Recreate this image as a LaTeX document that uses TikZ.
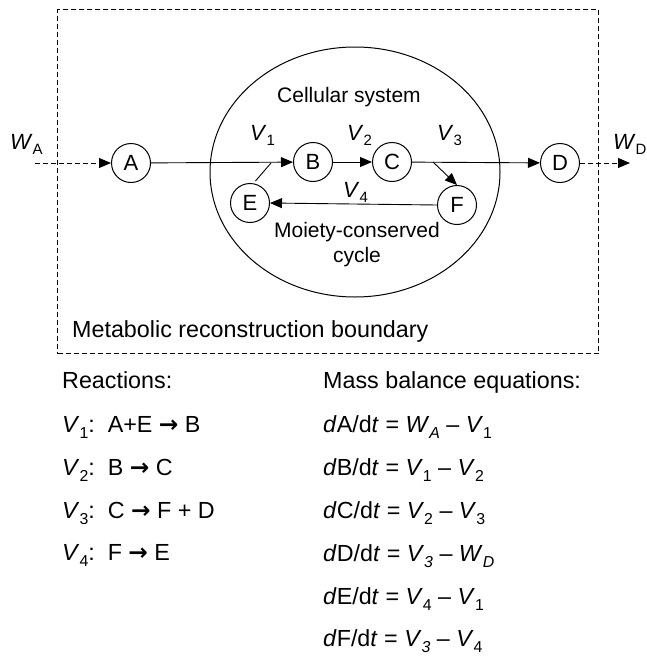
\documentclass[tikz,border=0pt]{standalone}
\usepackage{fontspec}
\setmainfont{Liberation Sans}
\newfontfamily\arrfont{DejaVu Sans}
\usetikzlibrary{arrows.meta,shapes.geometric}
\newcommand\lo[1]{\raisebox{-0.27em}{\scalebox{0.68}{#1}}}
\newcommand\rarr{{\arrfont\bfseries →}}
\begin{document}
\begin{tikzpicture}[x=1pt,y=-1pt,
  mol/.style={circle,draw,line width=1pt,minimum size=39pt,inner sep=0pt,font=\fontsize{22}{22}\selectfont},
  flow/.style={line width=0.9pt,-{Triangle[length=12pt,width=10pt]}},
  ext/.style={flow,dash pattern=on 5pt off 3pt},
  lab/.style={font=\fontsize{21}{25}\selectfont,inner sep=0pt},
  vlab/.style={font=\fontsize{22}{25}\selectfont,inner sep=0pt,anchor=base west},
  txt/.style={font=\fontsize{23.3}{28}\selectfont,anchor=base west,inner sep=0pt}]
\useasboundingbox (0,0) rectangle (646,656);
% boundary
\node[draw,line width=1pt,dash pattern=on 5pt off 3pt,minimum width=541pt,minimum height=344pt,anchor=north west,inner sep=0pt] (bound) at (57,9) {};
\node[txt] (blab) at (72,337) {Metabolic reconstruction boundary};
% cell
\node[ellipse,draw,line width=1pt,minimum width=290pt,minimum height=250pt,inner sep=0pt] (cell) at (355,172) {};
\node[lab] (cs) at (349,97) {Cellular system};
\node[lab,align=center] (mc) at (357,245) {Moiety-conserved\\cycle};
% metabolites
\node[mol] (A) at (131,163) {A};
\node[mol] (B) at (313,162) {B};
\node[mol] (C) at (392,162) {C};
\node[mol] (D) at (560,163) {D};
\node[mol] (E) at (250,203) {E};
\node[mol] (F) at (457,205) {F};
\coordinate (wa) at (35,163);
\coordinate (wd) at (630,163);
\coordinate (j1) at (271,163);
\coordinate (j3) at (433,162);
% flows
\draw[ext] (wa) -- (A);
\draw[ext] (D) -- (wd);
\draw[flow] (A) -- (B);
\draw[line width=0.9pt,shorten <=3pt] (E.80) -- (j1);
\draw[flow] (B) -- (C);
\draw[flow] (C) -- (D);
\draw[flow] (j3) -- (F.north);
\draw[flow] (F.west) -- (E.east);
% labels
\node[vlab] (WA) at (10,149) {\textit{W}\lo{A}};
\node[vlab] (WD) at (613,149) {\textit{W}\lo{D}};
\node[vlab] (v1) at (250,140) {\textit{V}\lo{1}};
\node[vlab] (v2) at (347,140) {\textit{V}\lo{2}};
\node[vlab] (v3) at (437,140) {\textit{V}\lo{3}};
\node[vlab] (v4) at (343,197) {\textit{V}\lo{4}};
% reactions
\node[txt] (rh) at (62,388) {Reactions:};
\node[txt] (r1) at (62,432) {\textit{V}\lo{1}:\ \ A+E \rarr\ B};
\node[txt] (r2) at (62,475) {\textit{V}\lo{2}:\ \ B \rarr\ C};
\node[txt] (r3) at (62,518) {\textit{V}\lo{3}:\ \ C \rarr\ F + D};
\node[txt] (r4) at (62,560) {\textit{V}\lo{4}:\ \ F \rarr\ E};
% mass balance
\node[txt] (mh) at (323,388) {Mass balance equations:};
\node[txt] (m1) at (323,432) {\textit{d}A/d\textit{t} = \textit{W}\lo{\textit{A}} – \textit{V}\lo{1}};
\node[txt] (m2) at (323,475) {\textit{d}B/d\textit{t} = \textit{V}\lo{1} – \textit{V}\lo{2}};
\node[txt] (m3) at (323,518) {\textit{d}C/d\textit{t} = \textit{V}\lo{2} – \textit{V}\lo{3}};
\node[txt] (m4) at (323,561) {\textit{d}D/d\textit{t} = \textit{V}\lo{\textit{3}} – \textit{W}\lo{\textit{D}}};
\node[txt] (m5) at (323,604) {\textit{d}E/d\textit{t} = \textit{V}\lo{4} – \textit{V}\lo{1}};
\node[txt] (m6) at (323,646) {\textit{d}F/d\textit{t} = \textit{V}\lo{\textit{3}} – \textit{V}\lo{4}};
\end{tikzpicture}
\end{document}
